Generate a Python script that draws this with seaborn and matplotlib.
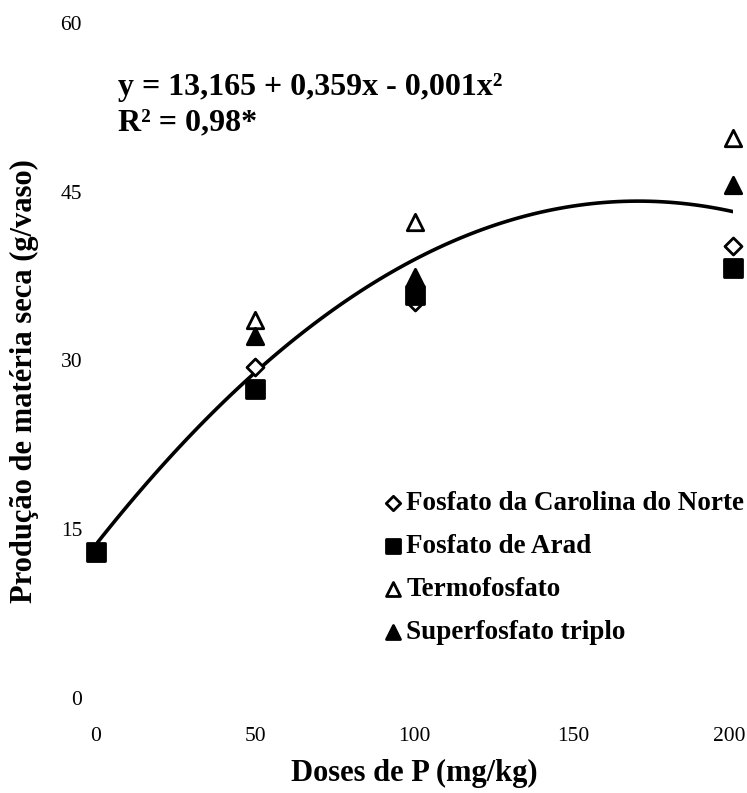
import matplotlib
matplotlib.use("Agg")
import matplotlib.pyplot as plt
import matplotlib.transforms as mtransforms
import seaborn as sns
import pandas as pd

# ---- data ----
doses = [0, 50, 100, 200]
carolina = [13.0, 29.4, 35.2, 40.2]
arad = [13.0, 27.5, 35.8, 38.2]
termo = [13.0, 33.6, 42.3, 49.8]
superf = [13.0, 32.2, 37.4, 45.6]
series_names = ["Fosfato da Carolina do Norte", "Fosfato de Arad",
                "Termofosfato", "Superfosfato triplo"]
x_ticks = [0, 50, 100, 150, 200]
y_ticks = [0, 15, 30, 45, 60]
equation = "y = 13,165 + 0,359x - 0,001x²"
r2_text = "R² = 0,98*"

sns.set_style("white")
plt.rcParams["font.family"] = ["Liberation Serif", "DejaVu Serif"]
plt.rcParams["text.color"] = "black"
plt.rcParams["axes.labelcolor"] = "black"
plt.rcParams["xtick.color"] = "black"
plt.rcParams["ytick.color"] = "black"

fig = plt.figure(figsize=(7.47, 7.93), dpi=100)
W, H = 747, 793
x0, x1 = 96, 733
y0, y1 = 698, 23
ax = fig.add_axes([x0 / W, 1 - y0 / H, (x1 - x0) / W, (y0 - y1) / H])

df = pd.DataFrame({
    "dose": doses * 4,
    "prod": carolina + arad + termo + superf,
    "fonte": sum([[n] * len(doses) for n in series_names], []),
})

# quadratic fit curve
sns.regplot(data=df, x="dose", y="prod", order=2, ci=None, scatter=False,
            ax=ax, color="black", line_kws={"linewidth": 2.6}, truncate=True)

styles = {
    "Fosfato da Carolina do Norte": dict(marker="D", facecolor="white", s=75),
    "Fosfato de Arad": dict(marker="s", facecolor="black", s=150),
    "Termofosfato": dict(marker="^", facecolor="white", s=140),
    "Superfosfato triplo": dict(marker="^", facecolor="black", s=140),
}
handles = []
for name in series_names:
    st = styles[name]
    sub = df[df["fonte"] == name]
    h = ax.scatter(sub["dose"], sub["prod"], marker=st["marker"], s=st["s"],
                   facecolors=st["facecolor"], edgecolors="black",
                   linewidths=2.0, clip_on=False, zorder=3, label=name)
    handles.append(h)

ax.set_xlim(0, 200)
ax.set_ylim(0, 60)
ax.set_xticks(x_ticks)
ax.set_yticks(y_ticks)
ax.tick_params(axis="both", length=0, labelsize=15.5, labelcolor="black")
ax.tick_params(axis="x", pad=21)
ax.tick_params(axis="y", pad=10)
for s in ax.spines.values():
    s.set_visible(False)

# keep the last x tick label inside the figure edge
fig.canvas.draw()
last = ax.get_xticklabels()[-1]
last.set_transform(last.get_transform() +
                   mtransforms.ScaledTranslation(-4 / 100, 0, fig.dpi_scale_trans))

ax.set_xlabel("Doses de P (mg/kg)", fontsize=22, fontweight="bold", labelpad=9,
              color="black")
ax.set_ylabel("Produção de matéria seca (g/vaso)", fontsize=22,
              fontweight="bold", va="center", color="black")
ax.yaxis.set_label_coords(-0.112, 0.47)

ax.text(0.035, 0.905, equation, transform=ax.transAxes, fontsize=23,
        fontweight="bold", va="center", ha="left", color="black")
ax.text(0.035, 0.852, r2_text, transform=ax.transAxes, fontsize=23,
        fontweight="bold", va="center", ha="left", color="black")

leg = ax.legend(handles=handles, loc="upper left",
                bbox_to_anchor=((382 - x0) / (x1 - x0), (y0 - 491) / (y0 - y1)),
                frameon=False, prop={"weight": "bold", "size": 19.5},
                handletextpad=0.1, labelspacing=0.66, markerscale=0.85,
                handlelength=0.8, borderaxespad=0, borderpad=0,
                labelcolor="black")

fig.savefig("out.png", dpi=100)
